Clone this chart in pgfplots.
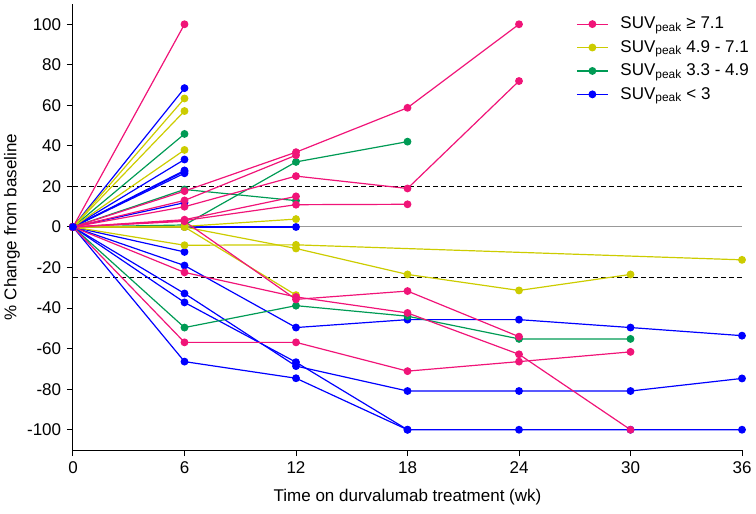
\documentclass[border=0pt]{standalone}
\usepackage{fontspec}
\setmainfont{Liberation Sans}
\usepackage{pgfplots}
\pgfplotsset{compat=1.18}
\definecolor{cpink}{RGB}{240,20,120}
\definecolor{cyel}{RGB}{204,204,0}
\definecolor{cgreen}{RGB}{0,155,85}
\definecolor{cblue}{RGB}{0,0,255}
\begin{document}
\fontsize{17}{20}\selectfont
\begin{tikzpicture}
\begin{axis}[
 scale only axis, width=669pt, height=446pt,
 xmin=0, xmax=36, ymin=-110, ymax=110,
 axis x line*=bottom, axis y line*=left,
 axis line style={line width=1pt, black, -},
 xtick={0,6,...,36}, ytick={-100,-80,...,100},
 tick align=outside, major tick length=6pt,
 every tick/.style={line width=1pt, black},
 /pgf/number format/assume math mode=true,
 tick label style={font=\fontsize{17}{20}\selectfont},
 xlabel={Time on durvalumab treatment (wk)},
 ylabel={\% Change from baseline},
 every axis x label/.style={at={(axis description cs:0.5,-0.1054)}, anchor=center},
 every axis y label/.style={at={(axis description cs:-0.0912,0.5)}, anchor=center, rotate=90},
 clip=false,
 pk/.style={cpink, line width=1.2pt, mark=*, mark size=3.3pt, mark options={solid, fill=cpink, draw=cpink}},
 yl/.style={cyel, line width=1.2pt, mark=*, mark size=3.3pt, mark options={solid, fill=cyel, draw=cyel}},
 gr/.style={cgreen, line width=1.2pt, mark=*, mark size=3.3pt, mark options={solid, fill=cgreen, draw=cgreen}},
 bl/.style={cblue, line width=1.2pt, mark=*, mark size=3.3pt, mark options={solid, fill=cblue, draw=cblue}},
 legend image code/.code={\draw[mark repeat=2,mark phase=2,#1] plot coordinates {(0pt,0pt) (15.5pt,0pt) (31pt,0pt)};},
 legend style={at={(rel axis cs:0.752,0.976)}, anchor=north west, draw=none, fill=none,
   font=\fontsize{17}{20}\selectfont, row sep=5pt, inner sep=0pt, cells={anchor=west},
   /tikz/every odd column/.append style={column sep=10pt}},
]
\coordinate (bl) at (rel axis cs:0,0);
\coordinate (tr) at (rel axis cs:1,1);
\addlegendimage{pk}\addlegendentry{SUV\textsubscript{peak} ≥ 7.1}
\addlegendimage{yl}\addlegendentry{SUV\textsubscript{peak} 4.9 - 7.1}
\addlegendimage{gr}\addlegendentry{SUV\textsubscript{peak} 3.3 - 4.9}
\addlegendimage{bl}\addlegendentry{SUV\textsubscript{peak} < 3}
% reference lines
\addplot[forget plot, gray!80, line width=1pt] coordinates {(0,0)(36,0)};
\addplot[forget plot, black, line width=1pt, dash pattern=on 5pt off 3pt] coordinates {(0,20)(36,20)};
\addplot[forget plot, black, line width=1pt, dash pattern=on 5pt off 3pt] coordinates {(0,-25)(36,-25)};
% blue
\addplot[forget plot, bl] coordinates {(0,0)(6,68.5)};
\addplot[forget plot, bl] coordinates {(0,0)(6,33.3)};
\addplot[forget plot, bl] coordinates {(0,0)(6,27.9)};
\addplot[forget plot, bl] coordinates {(0,0)(6,27.4)};
\addplot[forget plot, bl] coordinates {(0,0)(6,26.5)};
\addplot[forget plot, bl] coordinates {(0,0)(6,12.0)};
\addplot[forget plot, bl] coordinates {(0,0)(6,0)(12,0)};
\addplot[forget plot, bl] coordinates {(0,0)(6,-12.3)};
\addplot[forget plot, bl] coordinates {(0,0)(6,-19)(12,-49.6)(18,-45.7)(24,-45.7)(30,-49.6)(36,-53.6)};
\addplot[forget plot, bl] coordinates {(0,0)(6,-32.8)(12,-68.6)(18,-80.9)(24,-80.9)(30,-80.9)(36,-74.7)};
\addplot[forget plot, bl] coordinates {(0,0)(6,-37.2)(12,-66.7)(18,-100)(24,-100)(30,-100)(36,-100)};
\addplot[forget plot, bl] coordinates {(0,0)(6,-66.4)(12,-74.6)(18,-100)};
% green
\addplot[forget plot, gr] coordinates {(0,0)(6,45.9)};
\addplot[forget plot, gr] coordinates {(0,0)(6,18.5)(12,13.0)};
\addplot[forget plot, gr] coordinates {(0,0)(6,1)(12,32.1)(18,42.1)};
\addplot[forget plot, gr] coordinates {(0,0)(6,-49.6)(12,-38.8)(18,-44)(24,-55.2)(30,-55.2)};
% yellow
\addplot[forget plot, yl] coordinates {(0,0)(6,63.4)};
\addplot[forget plot, yl] coordinates {(0,0)(6,57.2)};
\addplot[forget plot, yl] coordinates {(0,0)(6,38.0)};
\addplot[forget plot, yl] coordinates {(0,0)(6,0.3)(12,3.9)};
\addplot[forget plot, yl] coordinates {(0,0)(6,0)(12,-10.6)(18,-23.4)(24,-31.3)(30,-23.4)};
\addplot[forget plot, yl] coordinates {(0,0)(6,-9)(12,-8.8)(36,-16.2)};
\addplot[forget plot, yl] coordinates {(0,0)(6,0)(12,-33.6)};
% pink
\addplot[forget plot, pk] coordinates {(0,0)(6,100)};
\addplot[forget plot, pk] coordinates {(0,0)(6,17.7)(12,36.9)(18,58.8)(24,100)};
\addplot[forget plot, pk] coordinates {(0,0)(6,13.1)(12,35.4)};
\addplot[forget plot, pk] coordinates {(0,0)(6,10.0)(12,25.1)(18,19.0)(24,72.0)};
\addplot[forget plot, pk] coordinates {(0,0)(6,3.6)(12,15.1)};
\addplot[forget plot, pk] coordinates {(0,0)(6,3.2)(12,11.0)(18,11.2)};
\addplot[forget plot, pk] coordinates {(0,0)(6,2.8)(12,-35.7)(18,-31.6)(24,-54.1)};
\addplot[forget plot, pk] coordinates {(0,0)(6,-22.4)(12,-34.5)(18,-42.4)(24,-62.8)(30,-100)};
\addplot[forget plot, pk] coordinates {(0,0)(6,-56.9)(12,-56.9)(18,-71.1)(24,-66.4)(30,-61.6)};
\addplot[forget plot, bl, only marks] coordinates {(0,0)};
\end{axis}
\pgfresetboundingbox
\path ([shift={(-73pt,-63pt)}]bl) rectangle ([shift={(14pt,4pt)}]tr);
\end{tikzpicture}
\end{document}
